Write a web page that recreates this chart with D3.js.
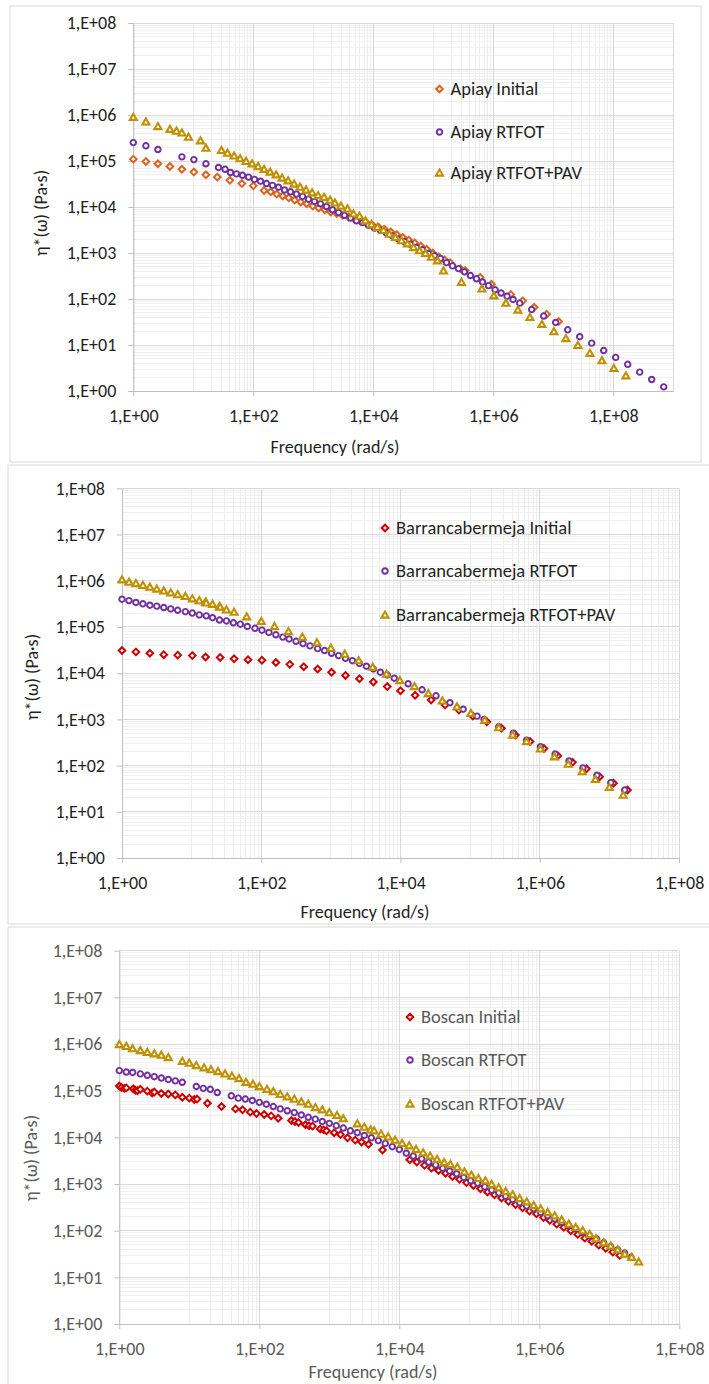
<!DOCTYPE html>
<html lang="en">
<head>
    <meta charset="UTF-8">
    <title>Complex viscosity master curves</title>
    <script src="https://d3js.org/d3.v7.min.js"></script>
    <style>
        body { margin: 0; background: #fff; }
        svg text { font-family: Carlito, Calibri, "Liberation Sans Narrow", "Arial Narrow", "Open Sans", sans-serif; }
    </style>
</head>
<body>
<svg width="709" height="1384"></svg>
<script>
// values as [log10 frequency (rad/s), log10 eta* (Pa.s)]
const apiayInitial = [[0,5.04],[0.21,4.99],[0.41,4.94],[0.61,4.88],[0.81,4.82],[1.01,4.76],[1.21,4.70],[1.40,4.65],[1.61,4.58],[1.81,4.51],[2.00,4.46],[2.18,4.36],[2.29,4.33],[2.39,4.28],[2.49,4.24],[2.59,4.20],[2.69,4.15],[2.79,4.11],[2.89,4.07],[2.99,4.02],[3.09,3.98],[3.19,3.94],[3.29,3.89],[3.39,3.86],[3.49,3.82],[3.59,3.78],[3.69,3.73],[3.79,3.69],[3.89,3.65],[3.99,3.60],[4.09,3.56],[4.19,3.51],[4.29,3.46],[4.39,3.40],[4.49,3.34],[4.59,3.28],[4.69,3.22],[4.79,3.15],[4.89,3.08],[4.99,3.00],[5.09,2.92],[5.19,2.85],[5.28,2.79],[5.45,2.66],[5.53,2.62],[5.78,2.47],[5.97,2.32],[6.29,2.10],[6.49,1.96],[6.68,1.82],[6.89,1.67],[7.09,1.51]];
const apiayRtfot = [[0,5.40],[0.21,5.33],[0.41,5.25],[0.81,5.09],[1.01,5.03],[1.21,4.94],[1.42,4.86],[1.53,4.82],[1.62,4.75],[1.72,4.72],[1.82,4.69],[1.92,4.65],[2.02,4.60],[2.12,4.56],[2.22,4.51],[2.32,4.47],[2.42,4.43],[2.52,4.37],[2.62,4.33],[2.72,4.28],[2.82,4.23],[2.92,4.17],[3.02,4.12],[3.12,4.07],[3.22,4.01],[3.32,3.94],[3.42,3.88],[3.52,3.82],[3.62,3.76],[3.72,3.70],[3.82,3.66],[3.92,3.60],[4.02,3.54],[4.12,3.49],[4.22,3.43],[4.32,3.37],[4.42,3.30],[4.52,3.25],[4.62,3.19],[4.72,3.12],[4.82,3.07],[4.92,2.99],[5.02,2.94],[5.12,2.88],[5.22,2.79],[5.32,2.72],[5.42,2.66],[5.52,2.59],[5.62,2.51],[5.72,2.44],[5.82,2.37],[5.92,2.29],[6.03,2.20],[6.13,2.13],[6.23,2.06],[6.33,1.99],[6.44,1.91],[6.64,1.77],[6.84,1.63],[7.04,1.49],[7.24,1.33],[7.44,1.18],[7.64,1.04],[7.84,0.88],[8.04,0.73],[8.24,0.58],[8.44,0.41],[8.64,0.25],[8.84,0.09]];
const apiayPav = [[0,5.95],[0.21,5.85],[0.41,5.75],[0.61,5.69],[0.72,5.65],[0.81,5.61],[0.92,5.52],[1.12,5.44],[1.21,5.28],[1.47,5.23],[1.57,5.17],[1.68,5.11],[1.78,5.05],[1.88,4.99],[1.98,4.94],[2.08,4.88],[2.18,4.82],[2.28,4.76],[2.38,4.70],[2.48,4.63],[2.58,4.57],[2.68,4.50],[2.78,4.43],[2.88,4.37],[2.98,4.31],[3.08,4.25],[3.18,4.21],[3.28,4.15],[3.36,4.09],[3.46,4.02],[3.57,3.96],[3.67,3.85],[3.77,3.80],[3.87,3.70],[3.97,3.62],[4.07,3.56],[4.17,3.49],[4.27,3.41],[4.37,3.34],[4.47,3.27],[4.57,3.20],[4.67,3.12],[4.77,3.05],[4.87,2.99],[4.97,2.91],[5.07,2.83],[5.17,2.61],[5.47,2.36],[5.81,2.22],[6.01,2.07],[6.21,1.91],[6.41,1.76],[6.61,1.60],[6.81,1.45],[7.01,1.29],[7.21,1.14],[7.41,0.99],[7.61,0.82],[7.81,0.66],[8.01,0.49],[8.21,0.33]];

const barrancaInitial = [[0,4.49],[0.20,4.46],[0.40,4.43],[0.60,4.40],[0.80,4.39],[1.01,4.38],[1.20,4.35],[1.41,4.34],[1.61,4.31],[1.81,4.29],[2.01,4.28],[2.21,4.23],[2.41,4.19],[2.61,4.14],[2.81,4.09],[3.01,4.02],[3.21,3.95],[3.41,3.88],[3.61,3.81],[3.81,3.71],[4.00,3.62],[4.21,3.52],[4.44,3.42],[4.64,3.31],[4.84,3.20],[5.04,3.07],[5.24,2.95],[5.45,2.81],[5.65,2.66],[5.86,2.52],[6.06,2.37],[6.26,2.21],[6.47,2.07],[6.67,1.93],[6.86,1.76],[7.06,1.62],[7.26,1.47]];
const barrancaRtfot = [[0,5.60],[0.10,5.57],[0.20,5.53],[0.30,5.50],[0.40,5.47],[0.50,5.45],[0.60,5.42],[0.70,5.39],[0.80,5.36],[0.91,5.33],[1.01,5.30],[1.11,5.26],[1.21,5.24],[1.30,5.20],[1.40,5.15],[1.50,5.13],[1.60,5.09],[1.70,5.06],[1.80,5.01],[1.91,4.97],[2.01,4.93],[2.11,4.88],[2.21,4.83],[2.31,4.78],[2.40,4.74],[2.50,4.69],[2.60,4.64],[2.70,4.59],[2.81,4.53],[2.91,4.49],[3.01,4.43],[3.11,4.38],[3.21,4.32],[3.31,4.27],[3.41,4.21],[3.51,4.15],[3.61,4.09],[3.71,4.02],[3.81,3.96],[3.91,3.89],[4.11,3.77],[4.31,3.64],[4.51,3.51],[4.71,3.36],[4.90,3.22],[5.10,3.07],[5.20,3.00],[5.41,2.84],[5.62,2.70],[5.81,2.55],[6.01,2.41],[6.22,2.25],[6.42,2.10],[6.62,1.95],[6.82,1.79],[7.02,1.63],[7.22,1.47]];
const barrancaPav = [[0,6.02],[0.10,5.97],[0.20,5.94],[0.30,5.90],[0.40,5.86],[0.50,5.82],[0.60,5.78],[0.70,5.74],[0.80,5.70],[0.91,5.66],[1.01,5.61],[1.11,5.57],[1.20,5.54],[1.21,5.52],[1.30,5.49],[1.40,5.44],[1.41,5.43],[1.50,5.37],[1.61,5.32],[1.79,5.22],[2.00,5.12],[2.19,5.01],[2.39,4.90],[2.59,4.78],[2.80,4.66],[3.00,4.54],[3.20,4.41],[3.40,4.27],[3.60,4.13],[3.80,3.98],[3.99,3.84],[4.20,3.71],[4.40,3.56],[4.60,3.40],[4.81,3.27],[5.01,3.13],[5.21,2.98],[5.41,2.82],[5.61,2.66],[5.81,2.52],[6.01,2.36],[6.21,2.19],[6.41,2.03],[6.61,1.87],[6.80,1.70],[7.00,1.53],[7.20,1.36]];

const boscanInitial = [[0,5.10],[0.03,5.07],[0.07,5.05],[0.10,5.06],[0.20,5.04],[0.23,5.01],[0.26,5.00],[0.30,5.03],[0.40,4.99],[0.47,4.95],[0.50,4.97],[0.60,4.94],[0.70,4.93],[0.80,4.91],[0.90,4.86],[1.00,4.84],[1.07,4.81],[1.11,4.82],[1.26,4.73],[1.46,4.66],[1.66,4.61],[1.76,4.59],[1.87,4.54],[1.96,4.51],[2.07,4.49],[2.17,4.46],[2.27,4.41],[2.46,4.36],[2.51,4.34],[2.56,4.32],[2.66,4.27],[2.71,4.25],[2.76,4.24],[2.87,4.18],[2.92,4.16],[2.96,4.14],[3.07,4.10],[3.16,4.06],[3.26,3.99],[3.37,3.94],[3.46,3.90],[3.56,3.85],[3.76,3.73],[4.15,3.52],[4.25,3.47],[4.36,3.40],[4.46,3.34],[4.56,3.29],[4.66,3.23],[4.76,3.16],[4.86,3.10],[4.96,3.03],[5.06,2.97],[5.16,2.90],[5.26,2.83],[5.36,2.77],[5.46,2.70],[5.56,2.63],[5.66,2.56],[5.76,2.49],[5.86,2.42],[5.96,2.36],[6.06,2.28],[6.15,2.22],[6.25,2.14],[6.35,2.07],[6.45,2.00],[6.55,1.92],[6.65,1.84],[6.75,1.77],[6.85,1.69],[6.95,1.62],[7.05,1.54],[7.15,1.47]];
const boscanRtfot = [[0,5.43],[0.10,5.40],[0.19,5.39],[0.30,5.36],[0.40,5.33],[0.50,5.30],[0.60,5.27],[0.70,5.24],[0.80,5.21],[0.90,5.18],[1.10,5.09],[1.20,5.05],[1.30,5.03],[1.40,4.96],[1.60,4.89],[1.70,4.84],[1.80,4.82],[1.90,4.79],[2.00,4.75],[2.10,4.71],[2.20,4.66],[2.30,4.61],[2.40,4.57],[2.50,4.53],[2.60,4.48],[2.70,4.43],[2.80,4.39],[2.90,4.34],[3.00,4.30],[3.10,4.25],[3.20,4.20],[3.30,4.14],[3.40,4.10],[3.50,4.04],[3.60,3.99],[3.70,3.93],[3.80,3.87],[3.90,3.80],[4.00,3.74],[4.10,3.66],[4.20,3.60],[4.32,3.54],[4.42,3.47],[4.52,3.41],[4.62,3.34],[4.72,3.28],[4.82,3.22],[4.92,3.14],[5.02,3.07],[5.12,3.02],[5.22,2.94],[5.32,2.87],[5.42,2.81],[5.52,2.74],[5.62,2.67],[5.72,2.60],[5.82,2.53],[5.92,2.47],[6.02,2.39],[6.12,2.32],[6.22,2.25],[6.32,2.18],[6.42,2.11],[6.52,2.04],[6.62,1.96],[6.72,1.89],[6.82,1.82],[6.92,1.74],[7.02,1.66],[7.12,1.59],[7.22,1.52],[7.31,1.43]];
const boscanPav = [[0,5.99],[0.10,5.95],[0.19,5.90],[0.30,5.86],[0.40,5.82],[0.50,5.79],[0.60,5.76],[0.70,5.71],[0.90,5.63],[1.00,5.59],[1.10,5.54],[1.21,5.49],[1.31,5.45],[1.41,5.41],[1.51,5.36],[1.61,5.31],[1.71,5.26],[1.81,5.18],[1.91,5.14],[2.00,5.09],[2.11,5.03],[2.20,4.98],[2.30,4.92],[2.40,4.87],[2.50,4.82],[2.60,4.76],[2.70,4.71],[2.80,4.64],[2.90,4.59],[3.00,4.53],[3.11,4.47],[3.20,4.40],[3.40,4.29],[3.50,4.22],[3.59,4.16],[3.64,4.14],[3.74,4.07],[3.84,4.01],[3.94,3.94],[4.04,3.87],[4.14,3.82],[4.24,3.74],[4.34,3.67],[4.44,3.60],[4.54,3.53],[4.64,3.46],[4.73,3.42],[4.83,3.36],[4.93,3.26],[5.03,3.19],[5.13,3.12],[5.23,3.07],[5.32,2.99],[5.42,2.92],[5.52,2.84],[5.62,2.77],[5.72,2.69],[5.82,2.62],[5.92,2.54],[6.02,2.47],[6.12,2.39],[6.22,2.32],[6.32,2.23],[6.42,2.14],[6.52,2.07],[6.62,2.00],[6.72,1.92],[6.81,1.83],[6.92,1.74],[7.02,1.67],[7.12,1.59],[7.22,1.50],[7.32,1.43],[7.42,1.33]];

const apiayNames = ['Apiay Initial', 'Apiay RTFOT', 'Apiay RTFOT+PAV'];
const barrancaNames = ['Barrancabermeja Initial', 'Barrancabermeja RTFOT', 'Barrancabermeja RTFOT+PAV'];
const boscanNames = ['Boscan Initial', 'Boscan RTFOT', 'Boscan RTFOT+PAV'];

const yTickLabels = ['1,E+00','1,E+01','1,E+02','1,E+03','1,E+04','1,E+05','1,E+06','1,E+07','1,E+08'];
const xTickLabels = ['1,E+00','1,E+02','1,E+04','1,E+06','1,E+08'];

const svg = d3.select('svg');

// marker shapes (Excel style: white centre, thick coloured outline)
const shapes = {
    diamond: 'M0,-3.3L3.3,0L0,3.3L-3.3,0Z',
    circle: d3.symbol().type(d3.symbolCircle).size(24)(),
    triangle: 'M0,-3.5L3.5,2.6L-3.5,2.6Z'
};
const shapeOrder = ['diamond', 'circle', 'triangle'];
const strokeW = [2, 1.9, 2.1];

const panels = [
    { series: [apiayInitial, apiayRtfot, apiayPav], names: apiayNames,
      colors: ['#DA6420', '#7030A0', '#BF9000'], textColor: '#1F1F1F',
      frame: [10, 6, 691, 456], left: 133.3, right: 673.3, top: 23, bottom: 391, xMaxExp: 9,
      yTitle: 'η*(ω) (Pa·s)', yTitleX: 41, yTitleY: 213, xTitleX: 335, xTitleY: 447,
      legendX: 439.5, legendY: [89, 132, 173] },
    { series: [barrancaInitial, barrancaRtfot, barrancaPav], names: barrancaNames,
      colors: ['#CC0000', '#7030A0', '#BF9000'], textColor: '#1F1F1F',
      frame: [8, 465, 710, 459], left: 122, right: 679, top: 488.3, bottom: 858, xMaxExp: 8,
      yTitle: 'η*(ω) (Pa·s)', yTitleX: 32, yTitleY: 677, xTitleX: 365, xTitleY: 912,
      legendX: 385, legendY: [528, 571, 615] },
    { series: [boscanInitial, boscanRtfot, boscanPav], names: boscanNames,
      colors: ['#CC0000', '#7030A0', '#BF9000'], textColor: '#595959',
      frame: [8, 927, 710, 470], left: 119.3, right: 679.3, top: 950.7, bottom: 1324, xMaxExp: 8,
      yTitle: 'η*(ω)  (Pa·s)', yTitleX: 31, yTitleY: 1158, xTitleX: 373, xTitleY: 1372,
      legendX: 410, legendY: [1017, 1060, 1104] }
];

panels.forEach(p => {
    const g = svg.append('g');

    g.append('rect')
        .attr('x', p.frame[0]).attr('y', p.frame[1])
        .attr('width', p.frame[2]).attr('height', p.frame[3])
        .attr('fill', '#fff').attr('stroke', '#D9D9D9');

    const x = d3.scaleLog().domain([1, 10 ** p.xMaxExp]).range([p.left, p.right]);
    const y = d3.scaleLog().domain([1, 1e8]).range([p.bottom, p.top]);

    // gridlines: y base 10 with 2..9 minors, x major every two decades
    const yMajor = d3.range(0, 9).map(k => 10 ** k);
    const yMinor = d3.range(0, 8).flatMap(k => d3.range(2, 10).map(j => j * 10 ** k));
    const xMajor = d3.range(0, p.xMaxExp + 1, 2).map(k => 10 ** k);
    const xMinor = d3.range(0, p.xMaxExp, 2)
        .flatMap(k => d3.range(1, 10).map(j => j * 10 ** (k + 1)))
        .filter(v => v <= 10 ** p.xMaxExp);

    const grid = g.append('g').attr('shape-rendering', 'crispEdges');
    grid.selectAll('.ymin').data(yMinor).join('line')
        .attr('x1', p.left).attr('x2', p.right)
        .attr('y1', d => y(d)).attr('y2', d => y(d))
        .attr('stroke', '#F0F0F0');
    grid.selectAll('.xmin').data(xMinor).join('line')
        .attr('x1', d => x(d)).attr('x2', d => x(d))
        .attr('y1', p.top).attr('y2', p.bottom)
        .attr('stroke', '#EDEDED');
    grid.selectAll('.ymaj').data(yMajor).join('line')
        .attr('x1', p.left).attr('x2', p.right)
        .attr('y1', d => y(d)).attr('y2', d => y(d))
        .attr('stroke', '#D9D9D9');
    grid.selectAll('.xmaj').data(xMajor.concat([10 ** p.xMaxExp])).join('line')
        .attr('x1', d => x(d)).attr('x2', d => x(d))
        .attr('y1', p.top).attr('y2', p.bottom)
        .attr('stroke', '#D9D9D9');

    // axes
    const yAxis = d3.axisLeft(y).tickValues(yMajor)
        .tickFormat((d, i) => yTickLabels[i]).tickSizeInner(5).tickSizeOuter(0).tickPadding(12);
    const xAxis = d3.axisBottom(x).tickValues(xMajor)
        .tickFormat((d, i) => xTickLabels[i]).tickSizeInner(5).tickSizeOuter(0).tickPadding(13);

    const ya = g.append('g').attr('transform', `translate(${p.left},0)`).call(yAxis);
    const xa = g.append('g').attr('transform', `translate(0,${p.bottom})`).call(xAxis);
    [ya, xa].forEach(a => {
        a.select('.domain').attr('stroke', '#BFBFBF');
        a.selectAll('.tick line').attr('stroke', '#BFBFBF');
        a.selectAll('.tick text').attr('fill', p.textColor).attr('font-size', 18)
            .attr('font-family', null);
    });

    // axis titles
    g.append('text')
        .attr('transform', `translate(${p.yTitleX},${p.yTitleY}) rotate(-90)`)
        .attr('text-anchor', 'middle').attr('dy', '0.35em')
        .attr('font-size', 18).attr('fill', p.textColor)
        .text(p.yTitle);
    g.append('text')
        .attr('x', p.xTitleX).attr('y', p.xTitleY).attr('dy', '0.35em')
        .attr('text-anchor', 'middle')
        .attr('font-size', 18).attr('fill', p.textColor)
        .text('Frequency (rad/s)');

    // markers
    p.series.forEach((s, si) => {
        g.append('g').selectAll('path').data(s).join('path')
            .attr('transform', d => `translate(${x(10 ** d[0])},${y(10 ** d[1])})`)
            .attr('d', shapes[shapeOrder[si]])
            .attr('fill', '#fff')
            .attr('stroke', p.colors[si])
            .attr('stroke-width', strokeW[si]);
    });

    // legend
    const lg = g.append('g');
    p.names.forEach((name, i) => {
        lg.append('path')
            .attr('transform', `translate(${p.legendX},${p.legendY[i]})`)
            .attr('d', shapes[shapeOrder[i]])
            .attr('fill', '#fff').attr('stroke', p.colors[i]).attr('stroke-width', strokeW[i]);
        lg.append('text')
            .attr('x', p.legendX + 11).attr('y', p.legendY[i]).attr('dy', '0.35em')
            .attr('font-size', 18.5).attr('fill', p.textColor)
            .text(name);
    });
});
</script>
</body>
</html>
